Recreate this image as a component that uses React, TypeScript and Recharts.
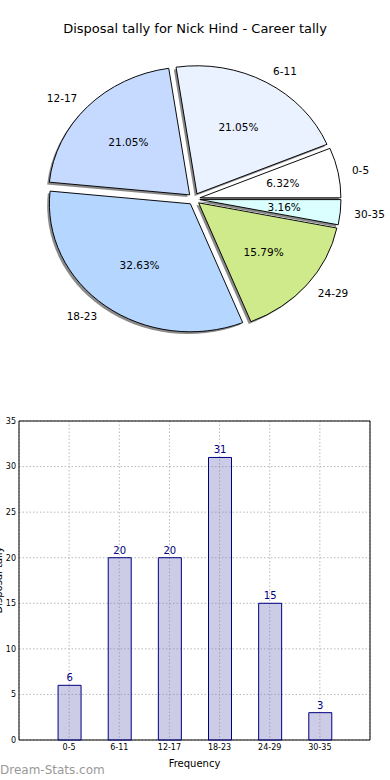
import React from "react";
import {
  PieChart,
  Pie,
  Sector,
  BarChart,
  Bar,
  XAxis,
  YAxis,
  CartesianGrid,
  ReferenceArea,
  LabelList,
} from "recharts";

// disposal ranges and how many games fell in each
const categories = ["0-5", "6-11", "12-17", "18-23", "24-29", "30-35"];
const tally = [6, 20, 20, 31, 15, 3];
const sliceColors = ["#ffffff", "#eaf1ff", "#c6d9ff", "#b5d6ff", "#cfea8b", "#dbffff"];
const yTicks = [0, 5, 10, 15, 20, 25, 30, 35];
const xTicks = [1, 2, 3, 4, 5, 6];

const pieData = categories.map((name, i) => ({ name, value: tally[i], fill: sliceColors[i] }));
const barData = categories.map((label, i) => ({ pos: i + 1, label, value: tally[i] }));

const FONT = "'DejaVu Sans', sans-serif";
const RAD = Math.PI / 180;
const RX = 141;
const RY = 128;
const EXPLODE = 6;

// matplotlib style wedge: exploded, squashed into an ellipse, with a shadow
const renderSlice = (props: any) => {
  const { cx, cy, startAngle, endAngle, midAngle, fill, outerRadius } = props;
  const ox = EXPLODE * Math.cos(midAngle * RAD);
  const oy = -EXPLODE * Math.sin(midAngle * RAD);
  const k = RY / RX;
  const t = (sx: number, sy: number) =>
    `translate(${cx + ox + sx},${cy + oy + sy}) scale(1,${k}) translate(${-cx},${-cy})`;
  return (
    <g>
      <g transform={t(-2.2, 2.2)}>
        <Sector cx={cx} cy={cy} innerRadius={0} outerRadius={outerRadius} startAngle={startAngle} endAngle={endAngle} fill="#8a8a8a" stroke="none" />
      </g>
      <g transform={t(0, 0)}>
        <Sector cx={cx} cy={cy} innerRadius={0} outerRadius={outerRadius} startAngle={startAngle} endAngle={endAngle} fill={fill} stroke="#000" strokeWidth={1} />
      </g>
    </g>
  );
};

const renderLabel = (props: any) => {
  const { cx, cy, midAngle, percent, index } = props;
  const c = Math.cos(midAngle * RAD);
  const s = Math.sin(midAngle * RAD);
  const bx = cx + EXPLODE * c;
  const by = cy - EXPLODE * s;
  return (
    <g>
      <text x={bx + 1.1 * RX * c} y={by - 1.1 * RY * s} textAnchor={c >= 0 ? "start" : "end"} dominantBaseline="central" fontSize={10.5} fontFamily={FONT} fill="#000">
        {categories[index]}
      </text>
      <text x={bx + 0.6 * RX * c} y={by - 0.6 * RY * s} textAnchor="middle" dominantBaseline="central" fontSize={10.5} fontFamily={FONT} fill="#000">
        {(percent * 100).toFixed(2) + "%"}
      </text>
    </g>
  );
};

// the y label sits mostly past the left edge, as in the source image
const YLabel = () => (
  <text x={1.5} y={180} transform="rotate(-90 1.5 180)" textAnchor="middle" fontSize={10} fontFamily={FONT} fill="#000">
    Disposal tally
  </text>
);

export default function App() {
  return (
    <div style={{ position: "absolute", left: 0, top: 0, width: 390, height: 780, background: "#fff", fontFamily: FONT }}>
      <div style={{ position: "absolute", left: 0, top: 21, width: 390, textAlign: "center", fontSize: 13 }}>
        Disposal tally for Nick Hind - Career tally
      </div>
      <div style={{ position: "absolute", left: 0, top: 0 }}>
        <PieChart width={390} height={400} margin={{ top: 0, right: 0, bottom: 0, left: 0 }}>
          <Pie
            data={pieData}
            dataKey="value"
            nameKey="name"
            cx={194}
            cy={199}
            outerRadius={RX}
            startAngle={0}
            endAngle={360}
            stroke="none"
            isAnimationActive={false}
            labelLine={false}
            label={renderLabel}
            shape={renderSlice}
            activeShape={renderSlice}
            inactiveShape={renderSlice}
          />
        </PieChart>
      </div>
      <div style={{ position: "absolute", left: 0, top: 400 }}>
        <BarChart width={390} height={380} data={barData} margin={{ top: 21, right: 20, bottom: 0, left: 0 }}>
          <CartesianGrid stroke="#b8b8b8" strokeDasharray="1.5 2" />
          <XAxis
            dataKey="pos"
            type="number"
            domain={[0, 7]}
            ticks={xTicks}
            tickFormatter={(v: number) => categories[v - 1]}
            axisLine={false}
            tickLine={false}
            tickSize={0}
            tickMargin={4}
            height={40}
            tick={{ fontSize: 8, fill: "#000", fontFamily: FONT }}
            label={{ value: "Frequency", position: "insideBottom", offset: 13, fontSize: 10, fill: "#000", fontFamily: FONT }}
          />
          <YAxis
            type="number"
            domain={[0, 35]}
            ticks={yTicks}
            width={19}
            axisLine={false}
            tickLine={false}
            tickSize={0}
            tickMargin={3}
            tick={{ fontSize: 8, fill: "#000", fontFamily: FONT }}
            label={<YLabel />}
          />
          <Bar dataKey="value" barSize={23} fill="#8080c0" fillOpacity={0.4} stroke="#000080" strokeWidth={1} isAnimationActive={false}>
            <LabelList dataKey="value" position="top" offset={4} fill="#000080" fontSize={10} fontFamily={FONT} />
          </Bar>
          <ReferenceArea x1={0} x2={7} y1={0} y2={35} fill="none" stroke="#000" strokeWidth={1} ifOverflow="visible" />
        </BarChart>
      </div>
      <div style={{ position: "absolute", left: 0, top: 763, fontSize: 12, color: "#999" }}>Dream-Stats.com</div>
    </div>
  );
}
